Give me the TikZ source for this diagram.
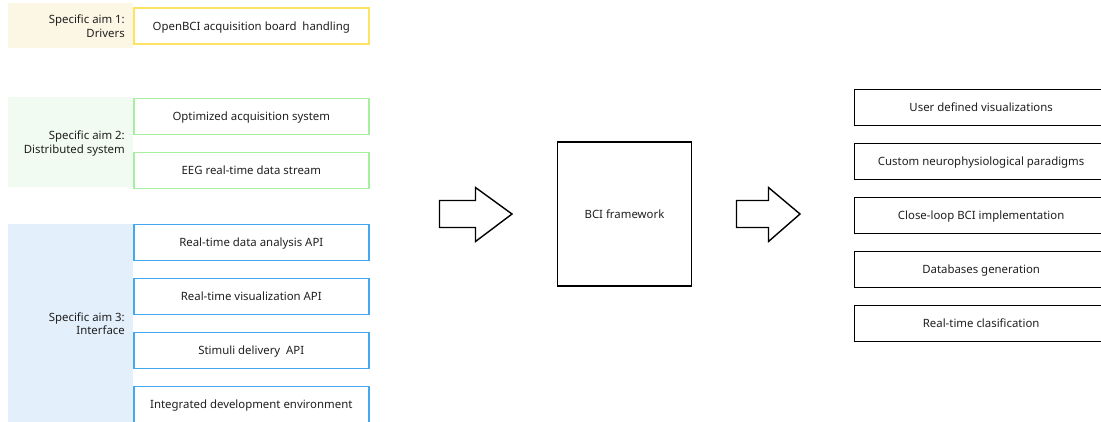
\documentclass[tikz,border=0pt]{standalone}
\usepackage{fontspec}
\setmainfont{Noto Sans}
\begin{document}
\begin{tikzpicture}[x=1pt,y=-1pt,
  every node/.style={font=\fontsize{11.4}{13.5}\selectfont, text=black!88},
  item/.style={draw, line width=1.6pt, minimum width=235pt, minimum height=36pt, inner sep=0pt, anchor=north west, text height=8.5pt, text depth=0pt},
  itemY/.style={item, draw=aimyellow},
  itemG/.style={item, draw=aimgreen},
  itemB/.style={item, draw=aimblue},
  result/.style={draw=black, line width=1.3pt, minimum width=254pt, minimum height=36pt, inner sep=0pt, anchor=north west, text height=8.5pt, text depth=0pt},
  aimlabel/.style={align=right, anchor=east, inner sep=0pt},
  bigarrow/.style={draw=black, line width=1.4pt, fill=white, line join=miter}
]
\definecolor{aimyellow}{HTML}{FDE360}
\definecolor{aimgreen}{HTML}{A6EEA0}
\definecolor{aimblue}{HTML}{42A9F0}
\definecolor{panelyellow}{HTML}{FCF7E4}
\definecolor{panelgreen}{HTML}{F1FBF1}
\definecolor{panelblue}{HTML}{E3F0FC}

\path[use as bounding box] (0,0) rectangle (1101,421);
\clip (0,0) rectangle (1101,421);

% background panels of the three aims
\fill[panelyellow] (8,3) rectangle (133,48);
\fill[panelgreen] (8,97) rectangle (133,187);
\fill[panelblue] (8,224) rectangle (133,430);

% aim labels
\node[aimlabel] (aim1) at (125,26) {Specific aim 1:\\Drivers};
\node[aimlabel] (aim2) at (125,143.5) {Specific aim 2:\\Distributed system};
\node[aimlabel] (aim3) at (125,323.5) {Specific aim 3:\\Interface};

% aim items
\node[itemY] (drv) at (133,7) {OpenBCI acquisition board\ \ handling};
\node[itemG] (opt) at (133,97.5) {Optimized acquisition system};
\node[itemG] (eeg) at (133,151.5) {EEG real-time data stream};
\node[itemB] (ana) at (133,223.5) {Real-time data analysis API};
\node[itemB] (vis) at (133,277.5) {Real-time visualization API};
\node[itemB] (sti) at (133,331.5) {Stimuli delivery\ \ API};
\node[itemB] (ide) at (133,385.5) {Integrated development environment};

% block arrows
\draw[bigarrow] (439.5,200.5) -- (475.5,200.5) -- (475.5,187.5) -- (512,214) -- (475.5,241.5) -- (475.5,227.5) -- (439.5,227.5) -- cycle;
\draw[bigarrow] (736.5,200.5) -- (768.5,200.5) -- (768.5,187.5) -- (800,214) -- (768.5,241.5) -- (768.5,227.5) -- (736.5,227.5) -- cycle;

% central framework
\node[draw=black, line width=1.3pt, minimum width=134pt, minimum height=144pt, inner sep=0pt, text height=8.5pt, text depth=0pt] (bci) at (624.5,214) {BCI framework};

% outcomes
\node[result] (r1) at (853.5,89) {User defined visualizations};
\node[result] (r2) at (853.5,143) {Custom neurophysiological paradigms};
\node[result] (r3) at (853.5,197) {Close-loop BCI implementation};
\node[result] (r4) at (853.5,251) {Databases generation};
\node[result] (r5) at (853.5,305) {Real-time clasification};
\end{tikzpicture}
\end{document}
